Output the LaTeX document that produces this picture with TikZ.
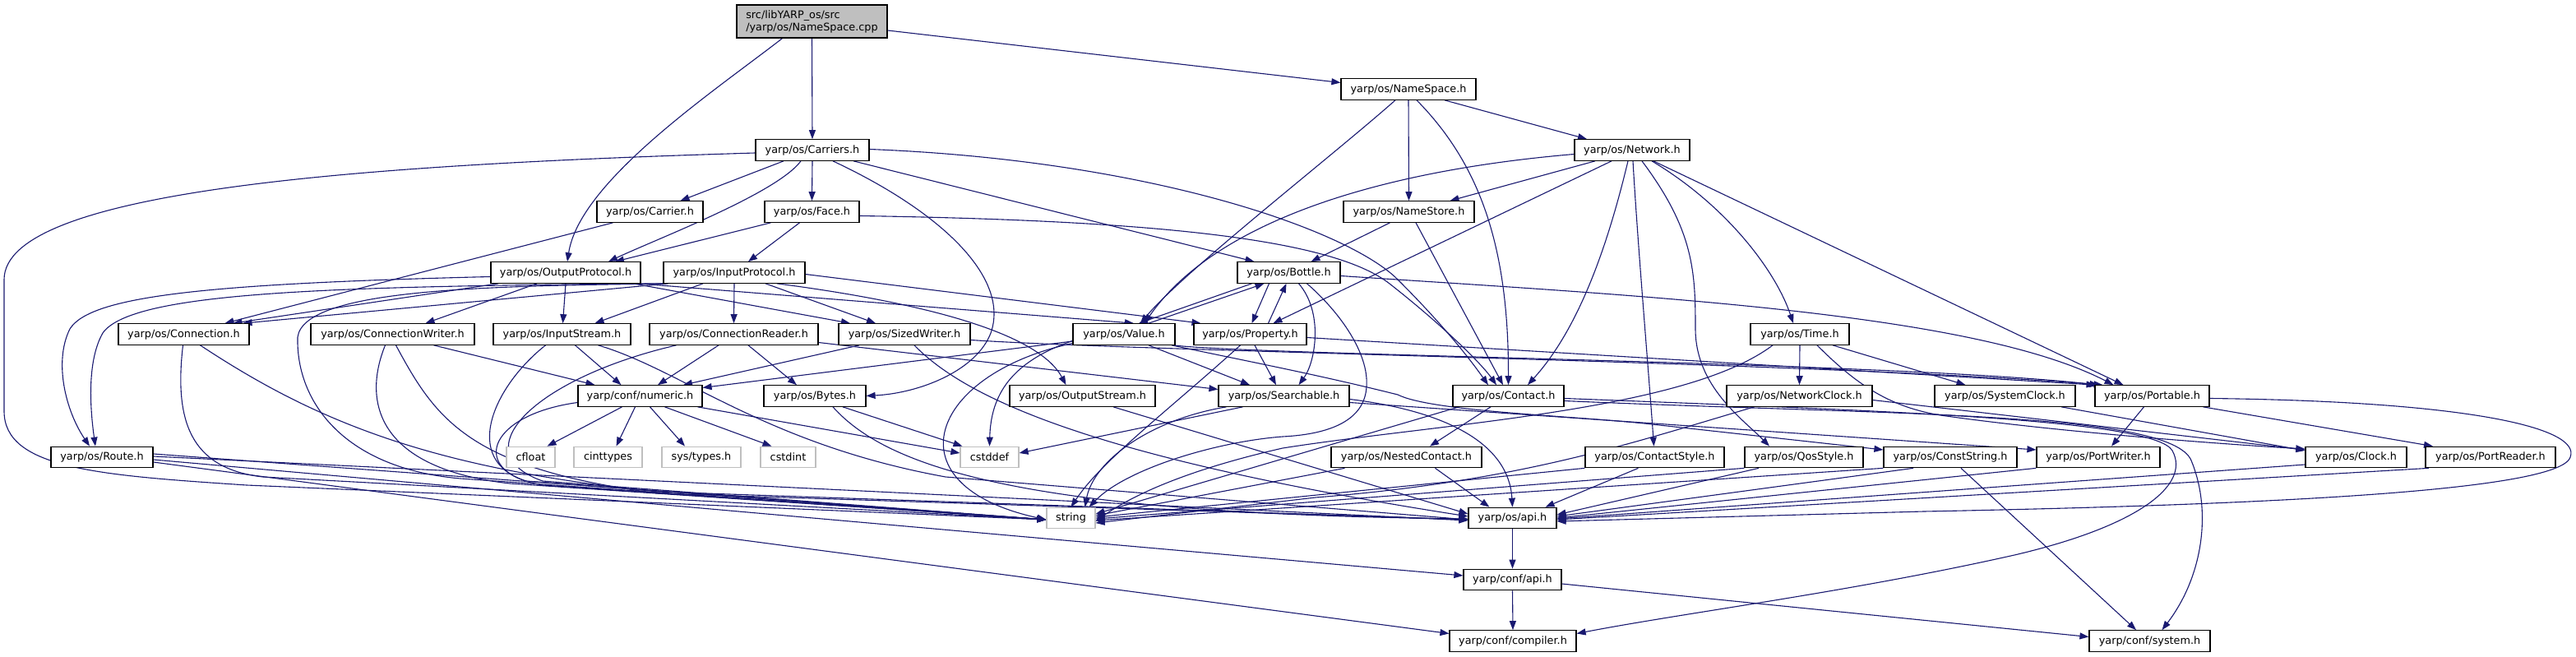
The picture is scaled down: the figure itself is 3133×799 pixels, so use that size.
\documentclass[tikz,border=0pt]{standalone}
\usepackage{fontspec}
\setmainfont{DejaVu Sans}
\usetikzlibrary{arrows.meta}
\definecolor{edgec}{HTML}{191970}
\definecolor{greyb}{HTML}{BFBFBF}
\pgfdeclarelayer{background}
\pgfsetlayers{background,main}
\begin{document}
\begin{tikzpicture}[x=1pt,y=-1pt,
  box/.style={draw=black, line width=1.2pt, fill=white, inner sep=0pt, minimum height=25.5pt, font=\fontsize{12.8pt}{15pt}\selectfont},
  sysbox/.style={box, draw=greyb},
  topbox/.style={box, fill=greyb, minimum height=40pt, align=left},
  dep/.style={draw=edgec, line width=1.1pt, -{Triangle[length=11pt,width=8pt]}}]
\useasboundingbox (0,0) rectangle (3133,799);
% ---------------- nodes
\node[topbox, minimum width=183pt] (cpp) at (987.5,26) {src/libYARP\_os/src\\/yarp/os/NameSpace.cpp};
\node[box, minimum width=138pt] (carriers) at (988,182.5) {yarp/os/Carriers.h};
\node[box, minimum width=164pt] (namespace) at (1713,108.5) {yarp/os/NameSpace.h};
\node[box, minimum width=140pt] (network) at (1985,182.5) {yarp/os/Network.h};
\node[box, minimum width=129pt] (carrier) at (790.5,257.5) {yarp/os/Carrier.h};
\node[box, minimum width=115pt] (face) at (987.5,257.5) {yarp/os/Face.h};
\node[box, minimum width=159pt] (namestore) at (1713.5,257.5) {yarp/os/NameStore.h};
\node[box, minimum width=182pt] (outproto) at (688,331.5) {yarp/os/OutputProtocol.h};
\node[box, minimum width=172pt] (inproto) at (893,331.5) {yarp/os/InputProtocol.h};
\node[box, minimum width=125pt] (bottle) at (1567.5,331.5) {yarp/os/Bottle.h};
\node[box, minimum width=159pt] (connection) at (223.5,406.5) {yarp/os/Connection.h};
\node[box, minimum width=199pt] (connwriter) at (477.5,406.5) {yarp/os/ConnectionWriter.h};
\node[box, minimum width=167pt] (instream) at (683.5,406.5) {yarp/os/InputStream.h};
\node[box, minimum width=205pt] (connreader) at (892.5,406.5) {yarp/os/ConnectionReader.h};
\node[box, minimum width=160pt] (sizedwriter) at (1100,406.5) {yarp/os/SizedWriter.h};
\node[box, minimum width=124pt] (value) at (1367,406.5) {yarp/os/Value.h};
\node[box, minimum width=137pt] (property) at (1520.5,406.5) {yarp/os/Property.h};
\node[box, minimum width=120pt] (time) at (2189,406.5) {yarp/os/Time.h};
\node[box, minimum width=151pt] (numeric) at (778.5,481.5) {yarp/conf/numeric.h};
\node[box, minimum width=124pt] (bytes) at (991,481.5) {yarp/os/Bytes.h};
\node[box, minimum width=177pt] (outstream) at (1316.5,481.5) {yarp/os/OutputStream.h};
\node[box, minimum width=159pt] (searchable) at (1561.5,481.5) {yarp/os/Searchable.h};
\node[box, minimum width=135pt] (contact) at (1834.5,481.5) {yarp/os/Contact.h};
\node[box, minimum width=177pt] (netclock) at (2188.5,481.5) {yarp/os/NetworkClock.h};
\node[box, minimum width=171pt] (sysclock) at (2438.5,481.5) {yarp/os/SystemClock.h};
\node[box, minimum width=139pt] (portable) at (2617.5,481.5) {yarp/os/Portable.h};
\node[box, minimum width=124pt] (route) at (124,556) {yarp/os/Route.h};
\node[sysbox, minimum width=59pt] (cfloat) at (645.5,556) {cfloat};
\node[sysbox, minimum width=83pt] (cinttypes) at (739.5,556) {cinttypes};
\node[sysbox, minimum width=96pt] (systypes) at (853,556) {sys/types.h};
\node[sysbox, minimum width=67pt] (cstdint) at (958.5,556) {cstdint};
\node[sysbox, minimum width=71pt] (cstddef) at (1203.5,556) {cstddef};
\node[box, minimum width=183pt] (nested) at (1710.5,556) {yarp/os/NestedContact.h};
\node[box, minimum width=169pt] (contactstyle) at (2012.5,556) {yarp/os/ContactStyle.h};
\node[box, minimum width=144pt] (qosstyle) at (2194,556) {yarp/os/QosStyle.h};
\node[box, minimum width=162pt] (conststring) at (2372,556) {yarp/os/ConstString.h};
\node[box, minimum width=150pt] (portwriter) at (2552,556) {yarp/os/PortWriter.h};
\node[box, minimum width=123pt] (clock) at (2865.5,556) {yarp/os/Clock.h};
\node[box, minimum width=158pt] (portreader) at (3029,556) {yarp/os/PortReader.h};
\node[sysbox, minimum width=59pt] (string) at (1302.5,630) {string};
\node[box, minimum width=107pt] (osapi) at (1839.5,630) {yarp/os/api.h};
\node[box, minimum width=119pt] (confapi) at (1839.5,705) {yarp/conf/api.h};
\node[box, minimum width=154pt] (compiler) at (1840,779.5) {yarp/conf/compiler.h};
\node[box, minimum width=147pt] (system) at (2614.5,779.5) {yarp/conf/system.h};
% ---------------- edges
\begin{pgfonlayer}{background}
\fill[white] (0,0) rectangle (3133,799);
% top
\draw[dep] (cpp.south) -- (carriers.north);
\draw[dep] ([xshift=-36pt]cpp.south) .. controls (870,110) and (705,220) .. ([xshift=2pt]outproto.north);
\draw[dep] ([yshift=-11pt]cpp.east) -- ([yshift=8pt]namespace.west);
% Carriers
\draw[dep] ([xshift=-35pt]carriers.south) -- ([xshift=37pt]carrier.north);
\draw[dep] (carriers.south) -- (face.north);
\draw[dep] ([xshift=-14pt]carriers.south) .. controls (945,235) and (800,290) .. ([xshift=52pt]outproto.north);
\draw[dep] ([yshift=-3.5pt]carriers.west) .. controls (450,200) and (5,230) .. (5,340) -- (5,500) .. controls (5,570) and (120,578) .. (300,590) -- ([yshift=-2pt]string.west);
\draw[dep] ([xshift=25pt]carriers.south) .. controls (1150,260) and (1228,340) .. (1205,405) .. controls (1188,450) and (1120,478) .. (bytes.east);
\draw[dep] ([xshift=50pt]carriers.south) -- ([xshift=-42pt]bottle.north);
\draw[dep] ([yshift=1pt]carriers.east) .. controls (1400,195) and (1640,280) .. (1700,340) .. controls (1760,400) and (1790,440) .. ([xshift=-24.5pt]contact.north);
% Face, Carrier
\draw[dep] ([xshift=-50pt]face.south) -- ([xshift=60pt]outproto.north);
\draw[dep] ([xshift=-15pt]face.south) -- ([xshift=17pt]inproto.north);
\draw[dep] ([yshift=-5pt]face.east) .. controls (1400,268) and (1620,290) .. (1690,345) .. controls (1750,392) and (1800,440) .. ([xshift=-14.5pt]contact.north);
\draw[dep] ([xshift=-45pt]carrier.south) -- ([xshift=50pt]connection.north);
% NameSpace
\draw[dep] ([xshift=44pt]namespace.south) -- ([xshift=-55pt]network.north);
\draw[dep] (namespace.south) -- (namestore.north);
\draw[dep] ([xshift=-16pt]namespace.south) .. controls (1620,190) and (1440,330) .. ([xshift=20pt]value.north);
\draw[dep] ([xshift=10pt]namespace.south) .. controls (1800,200) and (1835,300) .. (contact.north);
% Network
\draw[dep] ([xshift=-45pt]network.south) -- ([xshift=50pt]namestore.north);
\draw[dep] ([yshift=-5pt]network.west) .. controls (1650,210) and (1470,280) .. ([xshift=25pt]value.north);
\draw[dep] ([xshift=-25pt]network.south) -- ([xshift=28pt]property.north);
\draw[dep] ([xshift=-5pt]network.south) .. controls (1955,300) and (1920,400) .. ([xshift=23.5pt]contact.north);
\draw[dep] ([xshift=1pt]network.south) .. controls (1992,300) and (2005,450) .. ([xshift=-1pt]contactstyle.north);
\draw[dep] ([xshift=12pt]network.south) .. controls (2060,280) and (2062,330) .. (2062,400) .. controls (2062,470) and (2120,510) .. ([xshift=-42pt]qosstyle.north);
\draw[dep] ([xshift=24pt]network.south) .. controls (2100,250) and (2160,330) .. ([xshift=-8pt]time.north);
\draw[dep] ([xshift=26pt]network.south) -- ([xshift=-35pt]portable.north);
% NameStore
\draw[dep] ([xshift=-23pt]namestore.south) -- ([xshift=27pt]bottle.north);
\draw[dep] ([xshift=8.5pt]namestore.south) -- ([xshift=-6.5pt]contact.north);
% OutputProtocol
\draw[dep] ([yshift=-5pt]outproto.west) .. controls (250,345) and (110,360) .. (85,400) .. controls (65,440) and (80,500) .. ([xshift=-15pt]route.north);
\draw[dep] ([xshift=-82pt]outproto.south) -- ([xshift=60pt]connection.north);
\draw[dep] ([xshift=-35pt]outproto.south) -- ([xshift=40pt]connwriter.north);
\draw[dep] (outproto.south) -- ([xshift=1pt]instream.north);
\draw[dep] ([xshift=82pt]outproto.south) -- ([xshift=-66pt]sizedwriter.north);
\draw[dep] ([xshift=88pt]outproto.south) -- ([xshift=12pt]value.north);
% InputProtocol
\draw[dep] ([xshift=-84pt]inproto.south) .. controls (400,348) and (160,355) .. (125,405) .. controls (105,440) and (110,500) .. ([xshift=-8pt]route.north);
\draw[dep] ([xshift=-82pt]inproto.south) .. controls (600,348) and (370,350) .. (362,410) .. controls (360,490) and (420,570) .. (560,582) -- ([yshift=-2pt]string.west);
\draw[dep] ([xshift=-80pt]inproto.south) -- ([xshift=72pt]connection.north);
\draw[dep] ([xshift=-38pt]inproto.south) -- ([xshift=40pt]instream.north);
\draw[dep] (inproto.south) -- (connreader.north);
\draw[dep] ([xshift=38pt]inproto.south) -- ([xshift=-35pt]sizedwriter.north);
\draw[dep] ([xshift=52pt]inproto.south) .. controls (1100,365) and (1260,400) .. ([xshift=-20pt]outstream.north);
\draw[dep] ([yshift=-2pt]inproto.east) -- ([xshift=-60pt]property.north);
% Bottle / Value / Property cycle
\draw[dep] ([xshift=-45pt]bottle.south) -- ([xshift=18pt]value.north);
\draw[dep] ([xshift=30pt]value.north) -- ([xshift=-30pt]bottle.south);
\draw[dep] ([xshift=-24pt]bottle.south) -- ([xshift=2pt]property.north);
\draw[dep] ([xshift=22pt]property.north) -- ([xshift=-3pt]bottle.south);
\draw[dep] ([xshift=12pt]bottle.south) .. controls (1610,380) and (1600,440) .. ([xshift=18pt]searchable.north);
\draw[dep] ([xshift=22pt]bottle.south) .. controls (1630,380) and (1665,430) .. (1662,470) .. controls (1660,510) and (1620,528) .. (1560,531) .. controls (1480,537) and (1370,570) .. ([xshift=22pt]string.north);
\draw[dep] ([yshift=-4pt]bottle.east) .. controls (2000,360) and (2400,380) .. ([xshift=-47pt]portable.north);
% Connection
\draw[dep] ([xshift=-1pt]connection.south) .. controls (212,510) and (230,570) .. (320,580) -- ([yshift=-2pt]string.west);
\draw[dep] ([xshift=20pt]connection.south) .. controls (380,510) and (520,570) .. (800,598) -- ([yshift=-2pt]osapi.west);
% ConnectionWriter
\draw[dep] ([xshift=50pt]connwriter.south) -- ([xshift=-55pt]numeric.north);
\draw[dep] ([xshift=-9pt]connwriter.south) .. controls (440,490) and (460,570) .. (620,588) -- ([yshift=-2pt]string.west);
\draw[dep] ([xshift=4pt]connwriter.south) .. controls (530,510) and (570,570) .. (800,600) -- ([yshift=-2pt]osapi.west);
% InputStream
\draw[dep] ([xshift=16pt]instream.south) -- ([xshift=-23pt]numeric.north);
\draw[dep] ([xshift=-20pt]instream.south) .. controls (600,470) and (560,560) .. (640,585) -- ([yshift=-2pt]string.west);
\draw[dep] ([xshift=44pt]instream.south) .. controls (830,450) and (930,540) .. (1150,580) -- ([yshift=-2pt]osapi.west);
% ConnectionReader
\draw[dep] ([xshift=-18.5pt]connreader.south) -- ([xshift=21.5pt]numeric.north);
\draw[dep] ([xshift=17.5pt]connreader.south) -- ([xshift=-22pt]bytes.north);
\draw[dep] ([xshift=-70pt]connreader.south) .. controls (650,460) and (560,550) .. (660,585) -- ([yshift=-2pt]string.west);
\draw[dep] ([yshift=-10pt]connreader.east) -- ([yshift=8pt]searchable.west);
% SizedWriter
\draw[dep] ([xshift=-55pt]sizedwriter.south) -- ([xshift=52.5pt]numeric.north);
\draw[dep] ([yshift=-7pt]sizedwriter.east) .. controls (1400,428) and (2200,440) .. ([xshift=-60pt]portable.north);
\draw[dep] ([xshift=12pt]sizedwriter.south) .. controls (1180,490) and (1350,560) .. ([yshift=2pt]osapi.west);
% Value
\draw[dep] ([yshift=-8.5pt]value.west) -- ([yshift=10pt]numeric.east);
\draw[dep] ([yshift=-8pt]value.west) .. controls (1230,440) and (1205,480) .. (cstddef.north);
\draw[dep] ([yshift=-11pt]value.west) .. controls (1130,455) and (1080,590) .. ([yshift=-2pt]string.west);
\draw[dep] ([xshift=30pt]value.south) -- ([xshift=-41.5pt]searchable.north);
\draw[dep] ([xshift=-2pt]value.south east) .. controls (1520,432) and (2300,440) .. ([xshift=-65pt]portable.north);
\draw[dep] ([xshift=58pt]value.south) .. controls (1520,440) and (1600,455) .. (1700,480) .. controls (1740,500) and (1900,505) .. (2000,515) -- ([yshift=9pt]conststring.west);
% Property
\draw[dep] ([xshift=5.5pt]property.south) -- ([xshift=-9.5pt]searchable.north);
\draw[dep] ([xshift=-12pt]property.south) .. controls (1420,500) and (1340,560) .. (string.north);
\draw[dep] ([yshift=-4pt]property.east) -- ([xshift=-69pt]portable.north);
% numeric
\draw[dep] ([xshift=-22pt]numeric.south) -- ([xshift=20pt]cfloat.north);
\draw[dep] ([xshift=-6pt]numeric.south) -- ([xshift=10pt]cinttypes.north);
\draw[dep] ([xshift=12pt]numeric.south) -- ([xshift=-20pt]systypes.north);
\draw[dep] ([xshift=30pt]numeric.south) -- ([xshift=-20pt]cstdint.north);
\draw[dep] ([xshift=70pt]numeric.south) -- ([yshift=5pt]cstddef.west);
\draw[dep] ([yshift=-8pt]numeric.west) .. controls (590,505) and (570,575) .. (660,590) -- ([yshift=-2pt]string.west);
% Bytes, OutputStream
\draw[dep] ([xshift=34pt]bytes.south) -- ([xshift=-33pt]cstddef.north);
\draw[dep] ([xshift=22pt]bytes.south) .. controls (1080,570) and (1250,625) .. ([yshift=-1pt]osapi.west);
\draw[dep] ([xshift=37.5pt]outstream.south) -- ([yshift=5pt]osapi.west);
% Searchable
\draw[dep] ([xshift=-50pt]searchable.south) -- ([yshift=5pt]cstddef.east);
\draw[dep] ([xshift=-70pt]searchable.south) .. controls (1400,510) and (1330,560) .. ([xshift=17pt]string.north);
\draw[dep] ([yshift=-4pt]searchable.east) .. controls (1760,500) and (1835,540) .. (osapi.north);
\draw[dep] ([yshift=-8pt]searchable.east) -- ([yshift=9pt]portwriter.west);
% Contact
\draw[dep] ([xshift=-21.5pt]contact.south) -- ([xshift=28.5pt]nested.north);
\draw[dep] ([xshift=-60pt]contact.south) -- ([yshift=5pt]string.east);
\draw[dep] ([yshift=-3pt]contact.east) .. controls (2300,500) and (2620,510) .. (2642,548) .. controls (2665,590) and (2600,640) .. (2450,675) .. controls (2250,720) and (2050,745) .. ([yshift=9pt]compiler.east);
\draw[dep] ([yshift=-6pt]contact.east) .. controls (2300,505) and (2640,500) .. (2665,560) .. controls (2690,620) and (2680,700) .. ([xshift=15pt]system.north);
% Time
\draw[dep] (time.south) -- (netclock.north);
\draw[dep] ([xshift=40pt]time.south) -- ([xshift=-48pt]sysclock.north);
\draw[dep] ([xshift=21pt]time.south) .. controls (2260,470) and (2300,495) .. (2360,505) .. controls (2500,525) and (2700,540) .. ([yshift=10pt]clock.west);
\draw[dep] ([xshift=-33pt]time.south) .. controls (2050,500) and (1750,515) .. (1560,545) .. controls (1450,570) and (1380,600) .. ([yshift=-4pt]string.east);
% clocks
\draw[dep] ([xshift=-55pt]netclock.south) .. controls (1980,540) and (1850,585) .. (1600,605) -- ([yshift=-6pt]string.east);
\draw[dep] ([yshift=-5pt]netclock.east) -- ([yshift=9pt]clock.west);
\draw[dep] ([xshift=68.5pt]sysclock.south) -- ([yshift=8pt]clock.west);
% Portable
\draw[dep] ([xshift=-10pt]portable.south) -- ([xshift=16pt]portwriter.north);
\draw[dep] ([xshift=62pt]portable.south) -- ([xshift=-70pt]portreader.north);
\draw[dep] ([yshift=-3pt]portable.east) .. controls (3000,488) and (3140,520) .. (3126,556) .. controls (3112,600) and (2700,615) .. (2340,622) -- ([yshift=-4pt]osapi.east);
% row of leaf headers
\draw[dep] ([xshift=35pt]nested.south) -- ([xshift=-28pt]osapi.north);
\draw[dep] ([xshift=-75pt]nested.south) -- ([yshift=3pt]string.east);
\draw[dep] ([xshift=-20pt]contactstyle.south) -- ([xshift=40pt]osapi.north);
\draw[dep] (contactstyle.south west) -- ([yshift=1pt]string.east);
\draw[dep] ([xshift=-55pt]qosstyle.south) -- ([yshift=4pt]osapi.east);
\draw[dep] (qosstyle.south west) -- ([yshift=-1pt]string.east);
\draw[dep] ([xshift=-45pt]conststring.south) -- ([yshift=2pt]osapi.east);
\draw[dep] (conststring.south west) -- ([yshift=-3pt]string.east);
\draw[dep] ([xshift=13pt]conststring.south) -- ([xshift=-16.5pt]system.north);
\draw[dep] (portwriter.south west) -- (osapi.east);
\draw[dep] ([yshift=-9pt]clock.west) -- ([yshift=-1pt]osapi.east);
\draw[dep] ([xshift=-75pt]portreader.south) -- ([yshift=-2pt]osapi.east);
% Route
\draw[dep] ([yshift=4pt]route.east) -- ([yshift=-2pt]string.west);
\draw[dep] ([yshift=1pt]route.east) -- ([yshift=-3pt]osapi.west);
\draw[dep] ([yshift=-3pt]route.east) -- ([yshift=5pt]confapi.west);
\draw[dep] ([yshift=-6pt]route.east) -- ([yshift=9pt]compiler.west);
% api chain
\draw[dep] (osapi.south) -- (confapi.north);
\draw[dep] (confapi.south) -- (compiler.north);
\draw[dep] ([yshift=-5pt]confapi.east) -- ([yshift=5pt]system.west);
\end{pgfonlayer}
\end{tikzpicture}
\end{document}
